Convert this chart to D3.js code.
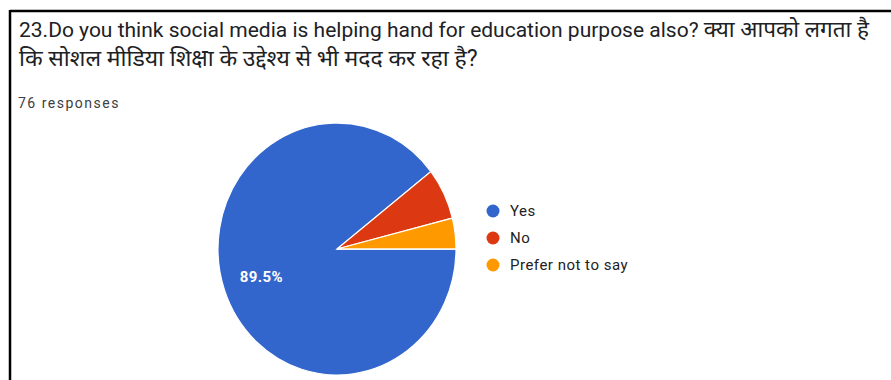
<!DOCTYPE html>
<html>
<head>
<meta charset="utf-8">
<script src="https://cdn.jsdelivr.net/npm/d3@7/dist/d3.min.js"></script>
<style>
  html, body { margin: 0; padding: 0; background: #fff; }
  svg { display: block; }
</style>
</head>
<body>
<svg id="chart" width="891" height="380"></svg>
<script>
// Survey question 23 results
const categories = ["Yes", "No", "Prefer not to say"];
const counts = [68, 5, 3];
const colors = ["#3366cc", "#dc3912", "#ff9900"];
const titleEnglish = "23.Do you think social media is helping hand for education purpose also? ";
const titleHindi = [
  "क्या आपको लगता है",
  "कि सोशल मीडिया शिक्षा के उद्देश्य से भी मदद कर रहा है?"
];
const responsesLabel = "76 responses";

const svg = d3.select("#chart");
const total = d3.sum(counts);

// card frame (left and top edges)
svg.append("line").attr("x1", 10).attr("y1", 11).attr("x2", 891).attr("y2", 11)
  .attr("stroke", "#000").attr("stroke-width", 2.5);
svg.append("line").attr("x1", 10).attr("y1", 10).attr("x2", 10).attr("y2", 380)
  .attr("stroke", "#000").attr("stroke-width", 2.5);

// question title: English then Hindi on the first line, Hindi continues below
const titleFont = "Roboto, 'Noto Sans', sans-serif";
const line1 = svg.append("text")
  .attr("x", 19).attr("y", 37)
  .attr("font-family", titleFont)
  .attr("fill", "#202124");
line1.append("tspan").attr("font-size", 21).text(titleEnglish);
line1.append("tspan").attr("font-size", 22.5).text(titleHindi[0]);

svg.append("text")
  .attr("x", 19).attr("y", 66)
  .attr("font-family", titleFont)
  .attr("font-size", 23)
  .attr("fill", "#202124")
  .text(titleHindi[1]);

svg.append("text")
  .attr("x", 18).attr("y", 108)
  .attr("font-family", "Roboto, sans-serif")
  .attr("font-size", 14)
  .attr("letter-spacing", 1.5)
  .attr("fill", "#3c4043")
  .text(responsesLabel);

// pie
const cx = 337, cy = 249, r = 119, yStretch = 126 / 119;
const pie = d3.pie().sort(null)
  .startAngle(Math.PI / 2).endAngle(Math.PI / 2 + 2 * Math.PI);
const arcs = pie(counts);
const arc = d3.arc().innerRadius(0).outerRadius(r);
const labelArc = d3.arc().innerRadius(2 * 80 - r).outerRadius(r);

const g = svg.append("g")
  .attr("transform", `translate(${cx},${cy}) scale(1,${yStretch})`);

g.selectAll("path").data(arcs).join("path")
  .attr("d", arc)
  .attr("fill", (d, i) => colors[i])
  .attr("stroke", "#fff")
  .attr("stroke-width", 1.2);

g.selectAll("text").data(arcs.filter(d => d.data / total > 0.1)).join("text")
  .attr("transform", d => {
    const [x, y] = labelArc.centroid(d);
    return `translate(${x},${y}) scale(1,${1 / yStretch})`;
  })
  .attr("text-anchor", "middle")
  .attr("dy", "0.35em")
  .attr("font-family", "Roboto, Arial, sans-serif")
  .attr("font-size", 15)
  .attr("font-weight", "bold")
  .attr("letter-spacing", 0.4)
  .attr("fill", "#fff")
  .text(d => (d.data / total * 100).toFixed(1) + "%");

// legend
const legend = svg.append("g").attr("transform", "translate(493,211)");
const items = legend.selectAll("g").data(categories).join("g")
  .attr("transform", (d, i) => `translate(0,${i * 27})`);
items.append("circle").attr("r", 6.5).attr("fill", (d, i) => colors[i]);
items.append("text")
  .attr("x", 17).attr("dy", "0.35em")
  .attr("font-family", "Roboto, Arial, sans-serif")
  .attr("font-size", 15)
  .attr("letter-spacing", 0.5)
  .attr("fill", "#222")
  .text(d => d);
</script>
</body>
</html>
